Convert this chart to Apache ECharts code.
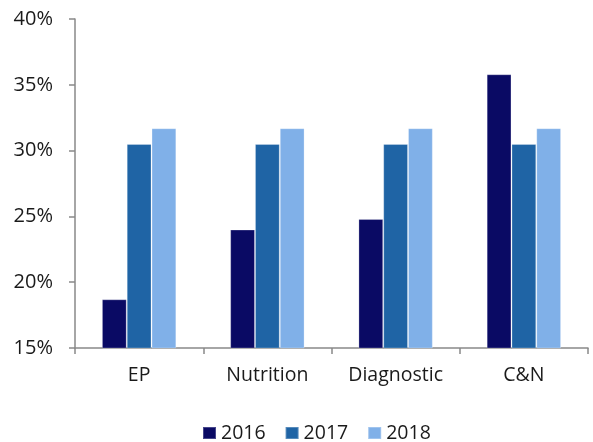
<!DOCTYPE html>
<html>
<head>
<meta charset="utf-8">
<script src="https://cdn.jsdelivr.net/npm/echarts@6/dist/echarts.min.js"></script>
<style>html,body{margin:0;padding:0;background:#fff;}#c{width:593px;height:442px;}</style>
</head>
<body>
<div id="c"></div>
<script>
const categories = ['EP', 'Nutrition', 'Diagnostic', 'C&N'];
const years = ['2016', '2017', '2018'];
const v2016 = [18.7, 24.0, 24.8, 35.8];
const v2017 = [30.5, 30.5, 30.5, 30.5];
const v2018 = [31.7, 31.7, 31.7, 31.7];
const colors = ['#0a0a64', '#1f64a5', '#80b0e8'];
const font = '"Open Sans", "Noto Sans", sans-serif';

const chart = echarts.init(document.getElementById('c'));
const mk = (name, data, i) => ({
  name, type: 'bar', data,
  barGap: '0%', barCategoryGap: '42%',
  itemStyle: { color: colors[i], borderColor: 'rgba(255,255,255,0.25)', borderWidth: 1 },
  animation: false
});
chart.setOption({
  animation: false,
  grid: { left: 75, right: 5, top: 19, bottom: 94 },
  legend: {
    data: years, left: 197, top: 418,
    itemWidth: 13, itemHeight: 12, itemGap: 19,
    icon: 'rect',
    textStyle: { fontFamily: font, fontSize: 19.5, color: '#1a1a1a' }
  },
  xAxis: {
    type: 'category', data: categories,
    axisLine: { lineStyle: { color: '#898989', width: 1.5 } },
    axisTick: { show: true, length: 6, lineStyle: { color: '#898989', width: 1.5 } },
    axisLabel: { fontFamily: font, fontSize: 19.5, color: '#1a1a1a', margin: 17 }
  },
  yAxis: {
    type: 'value', min: 15, max: 40, interval: 5,
    splitLine: { show: false },
    axisLine: { show: true, lineStyle: { color: '#898989', width: 1.5 } },
    axisTick: { show: true, length: 6, lineStyle: { color: '#898989', width: 1.5 } },
    axisLabel: { fontFamily: font, fontSize: 20, color: '#1a1a1a', margin: 22, formatter: v => v + '%' }
  },
  series: [mk(years[0], v2016, 0), mk(years[1], v2017, 1), mk(years[2], v2018, 2)]
});
</script>
</body>
</html>
